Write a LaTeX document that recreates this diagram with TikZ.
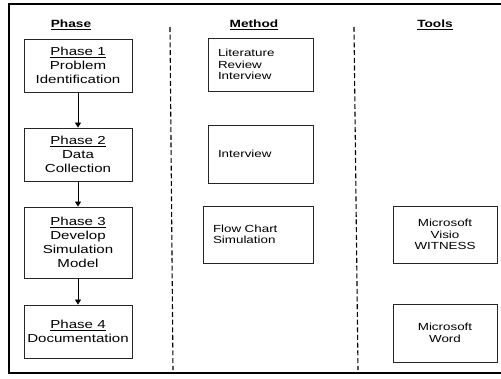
\documentclass[tikz,border=0pt]{standalone}
\usepackage{fontspec}
\setmainfont{Liberation Sans}[FakeStretch=1.3]
\usetikzlibrary{arrows.meta}
\begin{document}
\begin{tikzpicture}[x=1pt,y=-1pt,
  phasebox/.style={draw=black!85, line width=0.9pt, minimum width=108pt, align=center, inner sep=2pt,
    font=\fontsize{11.6}{14}\selectfont},
  methbox/.style={draw=black!85, line width=0.9pt, align=left, inner xsep=10pt, inner ysep=2pt,
    font=\fontsize{10.3}{11.6}\selectfont},
  toolbox/.style={draw=black!85, line width=0.9pt, minimum width=104pt, align=center, inner sep=2pt,
    font=\fontsize{10.3}{11.6}\selectfont},
  header/.style={font=\bfseries\fontsize{10.5}{12}\selectfont},
  flowarrow/.style={line width=0.8pt, -{Triangle[length=5pt,width=6pt]}},
  sepline/.style={line width=1.1pt, dash pattern=on 5pt off 2.7pt}
]
\useasboundingbox (0,0) rectangle (501,378);
% outer frame
\draw[line width=1.8pt] (9,4) rectangle (520,373);
% headers
\node[header] (hphase) at (71,25) {\underline{Phase}};
\node[header] (hmethod) at (254,25) {\underline{Method}};
\node[header] (htools) at (435,25) {\underline{Tools}};
% separators
\coordinate (s1a) at (170,27); \coordinate (s1b) at (173,370);
\coordinate (s2a) at (354,27); \coordinate (s2b) at (358,370);
\draw[sepline] (s1a) -- (s1b);
\draw[sepline] (s2a) -- (s2b);
% phase boxes
\node[phasebox, minimum height=53pt] (p1) at (78,65.5) {\underline{Phase 1}\\Problem\\Identification};
\node[phasebox, minimum height=53pt] (p2) at (78,154.5) {\underline{Phase 2}\\Data\\Collection};
\node[phasebox, minimum height=71pt] (p3) at (78,242.5) {\underline{Phase 3}\\Develop\\Simulation\\Model};
\node[phasebox, minimum height=53pt] (p4) at (78,331.5) {\underline{Phase 4}\\Documentation};
\draw[flowarrow] (p1) -- (p2);
\draw[flowarrow] (p2) -- (p3);
\draw[flowarrow] (p3) -- (p4);
% method boxes
\node[methbox, text width=85pt, minimum height=53pt] (m1) at (260.5,64.5) {Literature\\Review\\Interview};
\node[methbox, text width=85pt, minimum height=58pt] (m2) at (260.5,154) {Interview};
\node[methbox, text width=90pt, minimum height=57pt] (m3) at (258,234.5) {Flow Chart\\Simulation};
% tools boxes
\node[toolbox, minimum height=57pt] (t1) at (445,234.5) {Microsoft\\Visio\\WITNESS};
\node[toolbox, minimum height=58pt] (t2) at (445,333) {Microsoft\\Word};
\end{tikzpicture}
\end{document}
